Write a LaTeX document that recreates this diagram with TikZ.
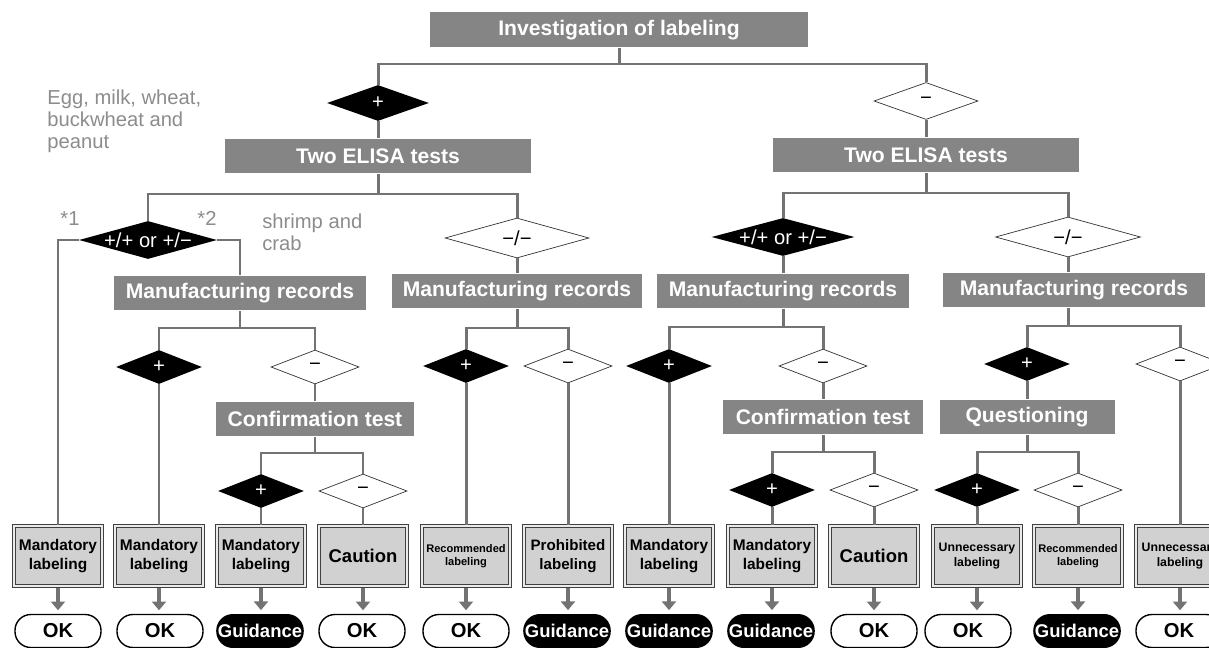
\documentclass[tikz,border=0pt]{standalone}
\usepackage{fontspec}
\setmainfont{Liberation Sans}
\usetikzlibrary{shapes.geometric,arrows.meta}
\newcommand{\dlab}[1]{\makebox[0pt]{#1}}

\begin{document}
\begin{tikzpicture}[x=0.02cm,y=-0.02cm]
\tikzstyle{graybox}=[fill=black!48,text=white,font=\fontsize{12}{14}\selectfont\bfseries,minimum height=0.7cm,inner sep=0pt]
\tikzstyle{yesdia}=[diamond,fill=black,text=white,inner sep=0pt,minimum width=1.72cm,minimum height=0.68cm,font=\fontsize{11.5}{13}\selectfont]
\tikzstyle{nodia}=[diamond,draw=black!80,fill=white,inner sep=0pt,minimum width=1.76cm,minimum height=0.68cm,font=\fontsize{11.5}{13}\selectfont]
\tikzstyle{endbox}=[draw=black!75,double=black!8,double distance=1.1pt,line width=0.6pt,fill=black!18,minimum width=1.76cm,minimum height=1.2cm,align=center,inner sep=1pt]
\tikzstyle{okend}=[draw,thick,fill=white,rounded corners=9pt,minimum width=1.72cm,minimum height=0.66cm,font=\fontsize{11.5}{13}\selectfont\bfseries]
\tikzstyle{guidend}=[fill=black,text=white,rounded corners=9.5pt,minimum width=1.72cm,minimum height=0.68cm,inner sep=1pt,font=\fontsize{10.5}{12}\selectfont\bfseries]
\tikzstyle{conn}=[draw=black!55,line width=1.7pt]
\tikzstyle{down}=[draw=black!55,line width=2.4pt,-{Triangle[width=8pt,length=5pt]},shorten <=1pt,shorten >=2pt]
\tikzstyle{note}=[text=black!45,font=\fontsize{11.5}{12.5}\selectfont,align=left,inner sep=0pt]
\clip (0,0) rectangle (1209,648);

% top of the chart
\node[graybox,minimum width=7.56cm] (inv) at (619,30) {Investigation of labeling};
\node[yesdia,minimum width=2.04cm,minimum height=0.72cm] (dp1) at (378,103) {\dlab{+}};
\node[nodia,minimum width=2.08cm,minimum height=0.74cm] (dm1) at (926,101) {\dlab{−}};
\node[graybox,minimum width=6.12cm] (elisa1) at (378,156) {Two ELISA tests};
\node[graybox,minimum width=6.14cm] (elisa2) at (926,155) {Two ELISA tests};

\node[note,anchor=north west] (foods) at (47,90) {Egg, milk, wheat,\\buckwheat and\\peanut};

% second level
\node[yesdia,minimum width=2.76cm,minimum height=0.76cm] (d11) at (148,240) {\dlab{+/+ or +/−}};
\node[nodia,minimum width=2.88cm,minimum height=0.8cm] (d12) at (517,238) {\dlab{−/−}};
\node[yesdia,minimum width=2.86cm,minimum height=0.76cm] (d21) at (783,237) {\dlab{+/+ or +/−}};
\node[nodia,minimum width=2.9cm,minimum height=0.8cm] (d22) at (1068,237) {\dlab{−/−}};

\node[note] (star1) at (70,219) {*1};
\node[note] (star2) at (207,218) {*2};
\node[note,anchor=north west] (shell) at (262,214) {shrimp and\\crab};

\node[graybox,minimum width=5.04cm] (mr1) at (240,293) {Manufacturing records};
\node[graybox,minimum width=5.0cm] (mr2) at (517,291) {Manufacturing records};
\node[graybox,minimum width=5.04cm] (mr3) at (783,291) {Manufacturing records};
\node[graybox,minimum width=5.24cm] (mr4) at (1074,290) {Manufacturing records};

% third level
\node[yesdia] (p11) at (159,367) {\dlab{+}};
\node[nodia] (m11) at (315,367) {\dlab{−}};
\node[yesdia] (p12) at (466,366) {\dlab{+}};
\node[nodia] (m12) at (568,366) {\dlab{−}};
\node[yesdia] (p21) at (669,366) {\dlab{+}};
\node[nodia] (m21) at (823,366) {\dlab{−}};
\node[yesdia] (p22) at (1027,364) {\dlab{+}};
\node[nodia] (m22) at (1180,364) {\dlab{−}};

\node[graybox,minimum width=3.98cm] (conf1) at (315,419) {Confirmation test};
\node[graybox,minimum width=4.0cm] (conf2) at (823,417) {Confirmation test};
\node[graybox,minimum width=3.5cm] (quest) at (1027,417) {Questioning};

% fourth level
\node[yesdia] (p111) at (261,491) {\dlab{+}};
\node[nodia] (m111) at (363,491) {\dlab{−}};
\node[yesdia] (p211) at (772,490) {\dlab{+}};
\node[nodia] (m211) at (874,490) {\dlab{−}};
\node[yesdia] (p221) at (977,490) {\dlab{+}};
\node[nodia] (m221) at (1078,490) {\dlab{−}};

% labeling results
\node[endbox,font=\fontsize{8.8}{10.8}\selectfont\bfseries] (b1) at (58,556) {Mandatory\\labeling};
\node[endbox,font=\fontsize{8.8}{10.8}\selectfont\bfseries] (b2) at (159,556) {Mandatory\\labeling};
\node[endbox,font=\fontsize{8.8}{10.8}\selectfont\bfseries] (b3) at (261,556) {Mandatory\\labeling};
\node[endbox,font=\fontsize{10.5}{12}\selectfont\bfseries] (b4) at (363,556) {Caution};
\node[endbox,font=\fontsize{6.3}{7.4}\selectfont\bfseries] (b5) at (466,556) {Recommended\\labeling};
\node[endbox,font=\fontsize{8.6}{10.8}\selectfont\bfseries] (b6) at (568,556) {Prohibited\\labeling};
\node[endbox,font=\fontsize{8.8}{10.8}\selectfont\bfseries] (b7) at (669,556) {Mandatory\\labeling};
\node[endbox,font=\fontsize{8.8}{10.8}\selectfont\bfseries] (b8) at (772,556) {Mandatory\\labeling};
\node[endbox,font=\fontsize{10.5}{12}\selectfont\bfseries] (b9) at (874,556) {Caution};
\node[endbox,font=\fontsize{7}{8.6}\selectfont\bfseries] (b10) at (977,556) {Unnecessary\\labeling};
\node[endbox,font=\fontsize{6.3}{7.4}\selectfont\bfseries] (b11) at (1078,556) {Recommended\\labeling};
\node[endbox,font=\fontsize{7}{8.6}\selectfont\bfseries] (b12) at (1180,556) {Unnecessary\\labeling};

\node[okend] (o1) at (58,631) {OK};
\node[okend] (o2) at (160,631) {OK};
\node[guidend] (o3) at (260,631) {Guidance};
\node[okend] (o4) at (362,631) {OK};
\node[okend] (o5) at (466,631) {OK};
\node[guidend] (o6) at (567,631) {Guidance};
\node[guidend] (o7) at (669,631) {Guidance};
\node[guidend] (o8) at (771,631) {Guidance};
\node[okend] (o9) at (874,631) {OK};
\node[okend] (o10) at (968,631) {OK};
\node[guidend] (o11) at (1077,631) {Guidance};
\node[okend] (o12) at (1179,631) {OK};

% connectors
\coordinate (j0) at (619,64);
\coordinate (j1) at (378,194);
\coordinate (j2) at (926,193);
\coordinate (j11) at (240,328);
\coordinate (j12) at (517,328);
\coordinate (j21) at (783,327);
\coordinate (j22) at (1068,326);
\coordinate (j111) at (315,453);
\coordinate (j211) at (823,452);
\coordinate (j221) at (1027,452);

\draw[conn] (inv.south) -- (j0);
\draw[conn] (dp1.north) |- (j0) -| (dm1.north);
\draw[conn] (dp1.south) -- (elisa1.north);
\draw[conn] (dm1.south) -- (elisa2.north);

\draw[conn] (elisa1.south) -- (j1);
\draw[conn] (d11.north) |- (j1) -| (d12.north);
\draw[conn] (elisa2.south) -- (j2);
\draw[conn] (d21.north) |- (j2) -| (d22.north);

\draw[conn] (d11.west) -| (b1.north);
\draw[conn] (d11.east) -| (mr1.north);
\draw[conn] (d12.south) -- (mr2.north);
\draw[conn] (d21.south) -- (mr3.north);
\draw[conn] (d22.south) -- (d22.south |- mr4.north);

\draw[conn] (mr1.south) -- (j11);
\draw[conn] (p11.north) |- (j11) -| (m11.north);
\draw[conn] (mr2.south) -- (j12);
\draw[conn] (p12.north) |- (j12) -| (m12.north);
\draw[conn] (mr3.south) -- (j21);
\draw[conn] (p21.north) |- (j21) -| (m21.north);
\draw[conn] (j22 |- mr4.south) -- (j22);
\draw[conn] (p22.north) |- (j22) -| (m22.north);

\draw[conn] (p11.south) -- (b2.north);
\draw[conn] (m11.south) -- (conf1.north);
\draw[conn] (p12.south) -- (b5.north);
\draw[conn] (m12.south) -- (b6.north);
\draw[conn] (p21.south) -- (b7.north);
\draw[conn] (m21.south) -- (conf2.north);
\draw[conn] (p22.south) -- (quest.north);
\draw[conn] (m22.south) -- (b12.north);

\draw[conn] (conf1.south) -- (j111);
\draw[conn] (p111.north) |- (j111) -| (m111.north);
\draw[conn] (conf2.south) -- (j211);
\draw[conn] (p211.north) |- (j211) -| (m211.north);
\draw[conn] (quest.south) -- (j221);
\draw[conn] (p221.north) |- (j221) -| (m221.north);

\draw[conn] (p111.south) -- (b3.north);
\draw[conn] (m111.south) -- (b4.north);
\draw[conn] (p211.south) -- (b8.north);
\draw[conn] (m211.south) -- (b9.north);
\draw[conn] (p221.south) -- (b10.north);
\draw[conn] (m221.south) -- (b11.north);

% arrows to the outcome
\draw[down] (b1.south) -- (b1.south |- o1.north);
\draw[down] (b2.south) -- (b2.south |- o2.north);
\draw[down] (b3.south) -- (b3.south |- o3.north);
\draw[down] (b4.south) -- (b4.south |- o4.north);
\draw[down] (b5.south) -- (b5.south |- o5.north);
\draw[down] (b6.south) -- (b6.south |- o6.north);
\draw[down] (b7.south) -- (b7.south |- o7.north);
\draw[down] (b8.south) -- (b8.south |- o8.north);
\draw[down] (b9.south) -- (b9.south |- o9.north);
\draw[down] (b10.south) -- (b10.south |- o10.north);
\draw[down] (b11.south) -- (b11.south |- o11.north);
\draw[down] (b12.south) -- (b12.south |- o12.north);
\end{tikzpicture}
\end{document}
